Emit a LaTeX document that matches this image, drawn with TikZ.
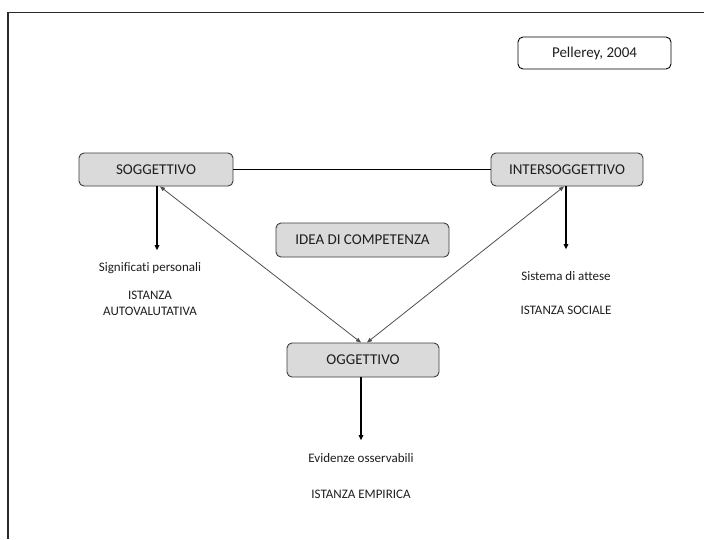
\documentclass[tikz,border=0pt]{standalone}
\usepackage{fontspec}
\setmainfont{Carlito}[Ligatures={NoCommon}]
\usetikzlibrary{arrows.meta,calc}

\definecolor{boxfill}{HTML}{DADADA}
\definecolor{boxline}{HTML}{3C3C3C}
\definecolor{frameline}{HTML}{2A2A2A}
\definecolor{diagline}{HTML}{505050}
\definecolor{inktext}{HTML}{1E1E1E}

\begin{document}
\begin{tikzpicture}[x=1pt,y=-1pt,
  concept/.style={draw=boxline, fill=boxfill, rounded corners=5pt,
    line width=0.9pt, inner sep=0pt, minimum height=33pt,
    text=inktext, font=\fontsize{15}{18}\selectfont},
  refbox/.style={draw=black, fill=white, rounded corners=5pt,
    line width=0.9pt, inner sep=0pt, minimum height=32pt,
    minimum width=153pt, text=inktext, font=\fontsize{15}{18}\selectfont},
  note/.style={inner sep=0pt, text=inktext, align=center,
    font=\fontsize{13}{16}\selectfont},
  downarrow/.style={line width=1.6pt, draw=black,
    -{Triangle[length=5pt,width=4.5pt]}},
  link/.style={line width=0.8pt, draw=diagline,
    {Triangle[length=5pt,width=4pt]}-{Triangle[length=5pt,width=4pt]}},
  plainlink/.style={line width=0.9pt, draw=black}]

  % page area and frame (top and left edges only)
  \useasboundingbox (0,0) rectangle (704,539);
  \fill[white] (0,0) rectangle (704,539);
  \draw[frameline, line width=1.5pt] (704,12.7) -- (8,12.7) -- (8,539);

  % reference
  \node[refbox] (ref) at (594.5,53) {Pellerey, 2004};

  % concept boxes
  \node[concept, minimum width=154pt] (sogg) at (156,169.5) {SOGGETTIVO};
  \node[concept, minimum width=152pt] (inter) at (567,169.5) {INTERSOGGETTIVO};
  \node[concept, minimum width=173pt, minimum height=34pt] (idea) at (362.5,240) {IDEA DI COMPETENZA};
  \node[concept, minimum width=152pt, minimum height=34pt] (ogg) at (363,360) {OGGETTIVO};

  % descriptive notes
  \node[note] (signif) at (150,268) {Significati personali};
  \node[note] (autoval) at (150,303) {ISTANZA\\AUTOVALUTATIVA};
  \node[note] (attese) at (566,276) {Sistema di attese};
  \node[note] (sociale) at (566,310) {ISTANZA SOCIALE};
  \node[note] (evid) at (361,458) {Evidenze osservabili};
  \node[note] (empir) at (361,494) {ISTANZA EMPIRICA};

  % arrow end points above the notes
  \coordinate (signifTop) at ($(signif.north)+(7,-12)$);
  \coordinate (atteseTop) at ($(attese.north)+(0,-22)$);
  \coordinate (evidTop) at ($(evid.north)+(0,-13)$);

  % connectors
  \draw[plainlink] (sogg.east) -- (inter.west);
  \draw[downarrow] (sogg.south) ++(1,0) -- (signifTop);
  \draw[downarrow] (inter.south) ++(-1,0) -- (atteseTop);
  \draw[downarrow] (ogg.south) ++(-2,0) -- (evidTop);
  \draw[link] ($(sogg.south)+(4,0)$) -- ($(ogg.north)+(-2,0)$);
  \draw[link] ($(inter.south)+(-3,0)$) -- ($(ogg.north)+(4,0)$);
\end{tikzpicture}
\end{document}
